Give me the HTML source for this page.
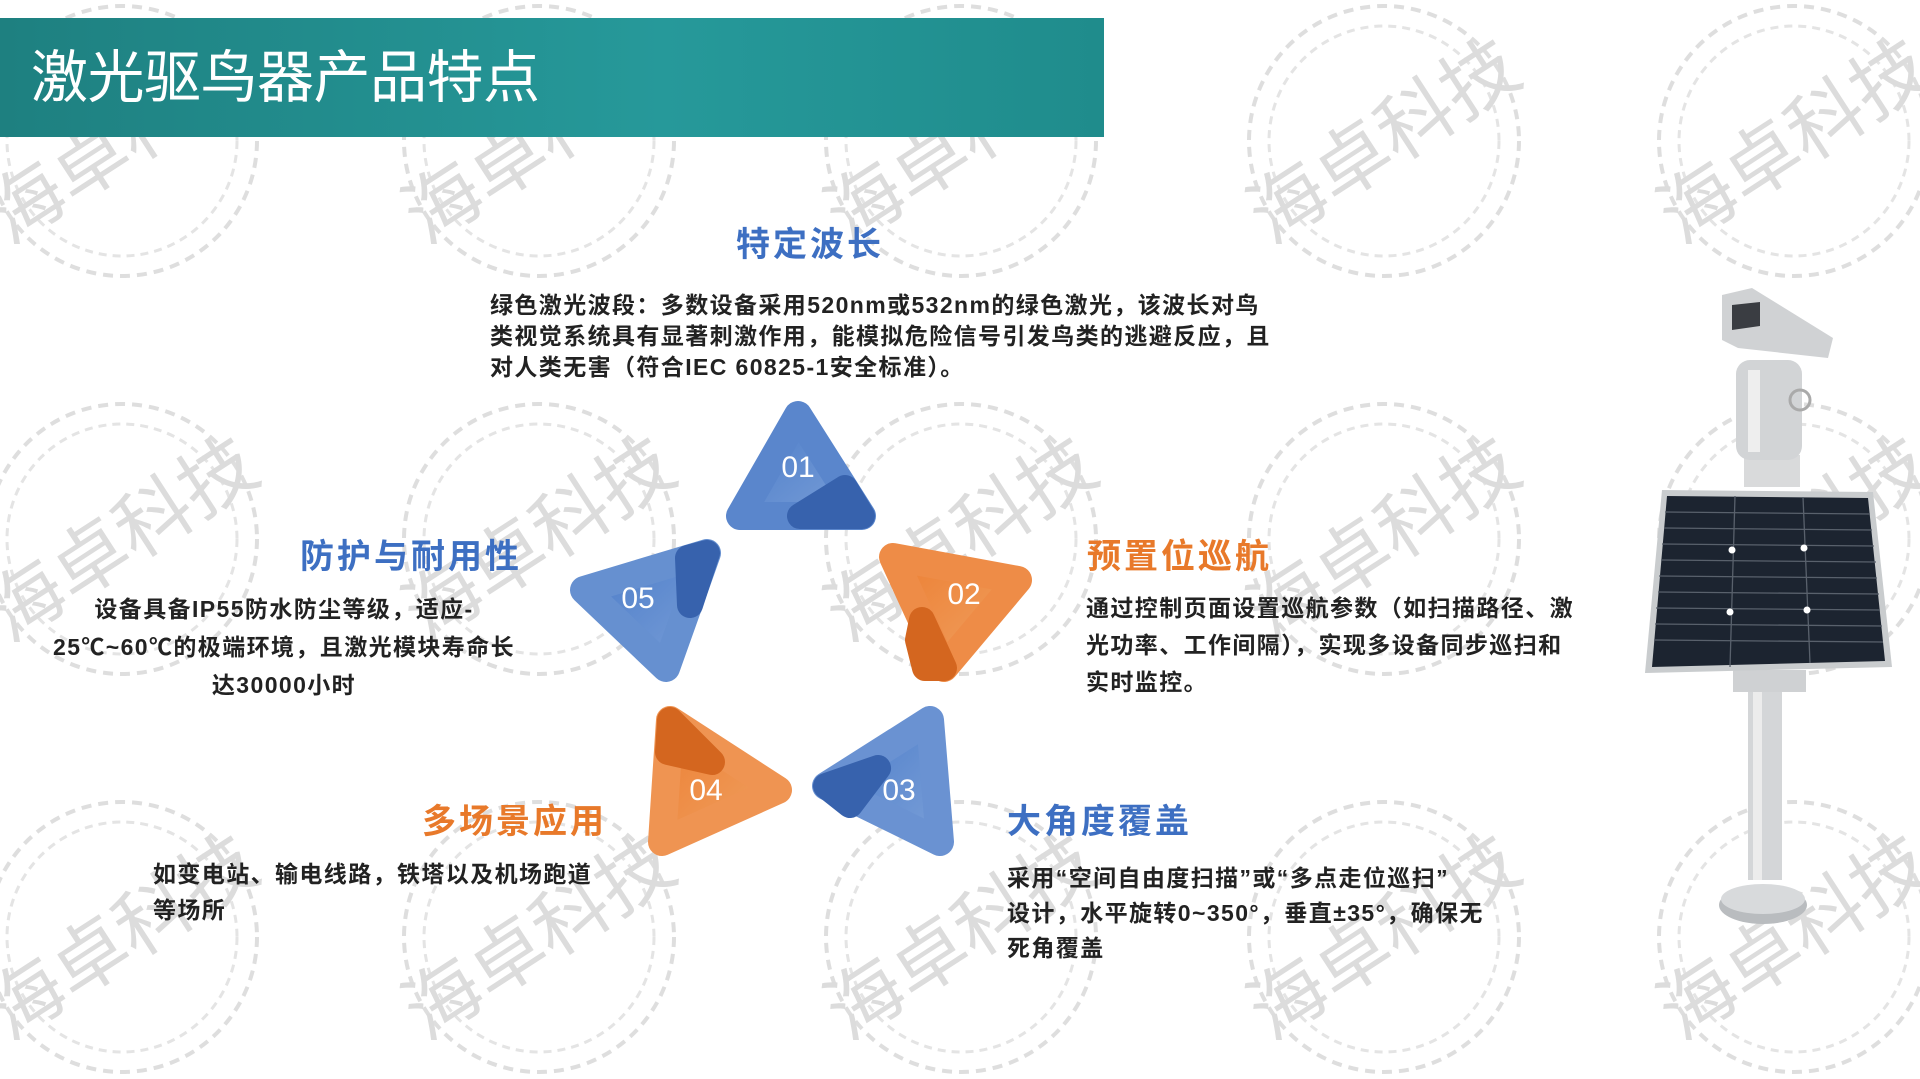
<!DOCTYPE html>
<html><head><meta charset="utf-8"><style>
html,body{margin:0;padding:0;}
body{width:1920px;height:1079px;position:relative;overflow:hidden;background:#fff;font-family:"Liberation Sans","Noto Sans CJK SC",sans-serif;}
.hdr{position:absolute;left:0;top:18px;width:1104px;height:119px;background:linear-gradient(90deg,#1e8080,#26999a 60%,#1f8c8c);}
.hdr span{position:absolute;left:31px;top:28px;font-size:57px;color:#fff;line-height:64px;letter-spacing:-0.5px;}
.t{position:absolute;font-size:34px;font-weight:bold;white-space:nowrap;line-height:40px;letter-spacing:3px;}
.b{color:#3d6fc2}.o{color:#e8792a}
.p{position:absolute;font-size:23px;font-weight:bold;color:#222;white-space:nowrap;letter-spacing:1.4px;}
</style></head><body>
<svg width="1920" height="1079" style="position:absolute;left:0;top:0">
<defs>
<g id="wm">
<circle r="135" fill="none" stroke="#dedede" stroke-width="4" stroke-dasharray="10 7"/>
<circle r="115" fill="none" stroke="#e4e4e4" stroke-width="3" stroke-dasharray="8 6"/>
<text x="0" y="26" text-anchor="middle" font-size="76" fill="#dcdcdc" transform="rotate(-33)" font-family="Noto Sans CJK SC,sans-serif">海卓科技</text>
</g>
<linearGradient id="gb" x1="0" y1="0" x2="1" y2="1"><stop offset="0" stop-color="#4a7bc8"/><stop offset="1" stop-color="#7a9fd8"/></linearGradient>
<linearGradient id="go" x1="0" y1="0" x2="1" y2="1"><stop offset="0" stop-color="#ec7f33"/><stop offset="1" stop-color="#f0a263"/></linearGradient>
</defs>
<use href="#wm" x="122" y="141"/><use href="#wm" x="539" y="141"/><use href="#wm" x="961" y="141"/><use href="#wm" x="1384" y="141"/><use href="#wm" x="1794" y="141"/>
<use href="#wm" x="122" y="539"/><use href="#wm" x="539" y="539"/><use href="#wm" x="961" y="539"/><use href="#wm" x="1384" y="539"/><use href="#wm" x="1794" y="539"/>
<use href="#wm" x="122" y="937"/><use href="#wm" x="539" y="937"/><use href="#wm" x="961" y="937"/><use href="#wm" x="1384" y="937"/><use href="#wm" x="1794" y="937"/>
<g stroke-linejoin="round" stroke-width="28">
<polygon points="798,415 740,516 862,516" fill="url(#gb)" stroke="#5a86cc"/>
<polygon points="800,516 862,516 845,488" fill="#3762ad" stroke="#3762ad" stroke-width="26"/>
<polygon points="893,557 1018,580 944,668" fill="url(#go)" stroke="#ee8c47"/>
<polygon points="922,620 944,668 925,668 918,640" fill="#d4661f" stroke="#d4661f" stroke-width="26"/>
<polygon points="930,720 826,786 940,842" fill="url(#gb)" stroke="#6a92d2"/>
<polygon points="826,786 878,768 850,805" fill="#3762ad" stroke="#3762ad" stroke-width="26"/>
<polygon points="670,720 778,790 662,842" fill="url(#go)" stroke="#ef9452"/>
<polygon points="670,720 712,762 668,752" fill="#d4661f" stroke="#d4661f" stroke-width="26"/>
<polygon points="584,590 707,553 666,668" fill="url(#gb)" stroke="#6690d0"/>
<polygon points="688,558 707,553 690,605" fill="#3762ad" stroke="#3762ad" stroke-width="26"/>
</g>
<g fill="#fff" font-size="30" font-family="Liberation Sans,sans-serif" text-anchor="middle">
<text x="798" y="477">01</text><text x="964" y="604">02</text><text x="899" y="800">03</text><text x="706" y="800">04</text><text x="638" y="608">05</text>
</g>
<!-- product -->
<g>
<rect x="1748" y="680" width="34" height="200" fill="#d4d6d8"/>
<rect x="1753" y="680" width="9" height="200" fill="#ececec"/>
<ellipse cx="1763" cy="905" rx="44" ry="19" fill="#b9bcbf"/>
<ellipse cx="1763" cy="899" rx="42" ry="15" fill="#d8dadc"/>
<rect x="1733" y="670" width="73" height="22" fill="#cfd1d3"/>
<rect x="1744" y="455" width="56" height="32" fill="#d9dadb"/>
<rect x="1736" y="360" width="66" height="100" rx="14" fill="#d2d4d6"/>
<rect x="1748" y="370" width="12" height="82" fill="#eeeeee"/>
<circle cx="1800" cy="400" r="10" fill="none" stroke="#aaa" stroke-width="3"/>
<polygon points="1722,295 1752,288 1833,338 1828,358 1738,348 1722,340" fill="#d0d2d4"/>
<polygon points="1732,305 1760,302 1760,326 1732,330" fill="#3a3d42"/>
<polygon points="1662,490 1873,492 1892,667 1645,673" fill="#c9ccce"/>
<polygon points="1667,496 1868,498 1885,661 1652,667" fill="#1c2430"/>
<g stroke="#59616c" stroke-width="1.3">
<line x1="1735" y1="496" x2="1730" y2="667"/><line x1="1803" y1="497" x2="1810" y2="663"/>
<line x1="1665" y1="512" x2="1870" y2="514"/><line x1="1664" y1="528" x2="1872" y2="530"/><line x1="1662" y1="544" x2="1874" y2="546"/><line x1="1661" y1="560" x2="1876" y2="562"/><line x1="1659" y1="576" x2="1877" y2="578"/><line x1="1658" y1="592" x2="1879" y2="594"/><line x1="1656" y1="608" x2="1880" y2="610"/><line x1="1655" y1="624" x2="1882" y2="626"/><line x1="1654" y1="640" x2="1883" y2="642"/>
</g>
<g fill="#fff"><circle cx="1732" cy="550" r="3.5"/><circle cx="1804" cy="548" r="3.5"/><circle cx="1730" cy="612" r="3.5"/><circle cx="1807" cy="610" r="3.5"/></g>
</g>
</svg>
<div class="hdr"><span>激光驱鸟器产品特点</span></div>
<div class="t b" style="left:736px;top:225px">特定波长</div>
<div class="p" style="left:490px;top:290px;line-height:31px">绿色激光波段：多数设备采用520nm或532nm的绿色激光，该波长对鸟<br>类视觉系统具有显著刺激作用，能模拟危险信号引发鸟类的逃避反应，且<br>对人类无害（符合IEC 60825-1安全标准）。</div>
<div class="t b" style="left:300px;top:537px">防护与耐用性</div>
<div class="p" style="left:24px;top:590px;width:520px;text-align:center;line-height:38px;white-space:normal">设备具备IP55防水防尘等级，适应-<br>25℃~60℃的极端环境，且激光模块寿命长<br>达30000小时</div>
<div class="t o" style="left:1087px;top:537px">预置位巡航</div>
<div class="p" style="left:1086px;top:590px;line-height:37px">通过控制页面设置巡航参数（如扫描路径、激<br>光功率、工作间隔），实现多设备同步巡扫和<br>实时监控。</div>
<div class="t o" style="left:422px;top:802px">多场景应用</div>
<div class="p" style="left:153px;top:856px;line-height:36px">如变电站、输电线路，铁塔以及机场跑道<br>等场所</div>
<div class="t b" style="left:1007px;top:802px">大角度覆盖</div>
<div class="p" style="left:1007px;top:861px;line-height:35px">采用“空间自由度扫描”或“多点走位巡扫”<br>设计，水平旋转0~350°，垂直±35°，确保无<br>死角覆盖</div>
</body></html>
